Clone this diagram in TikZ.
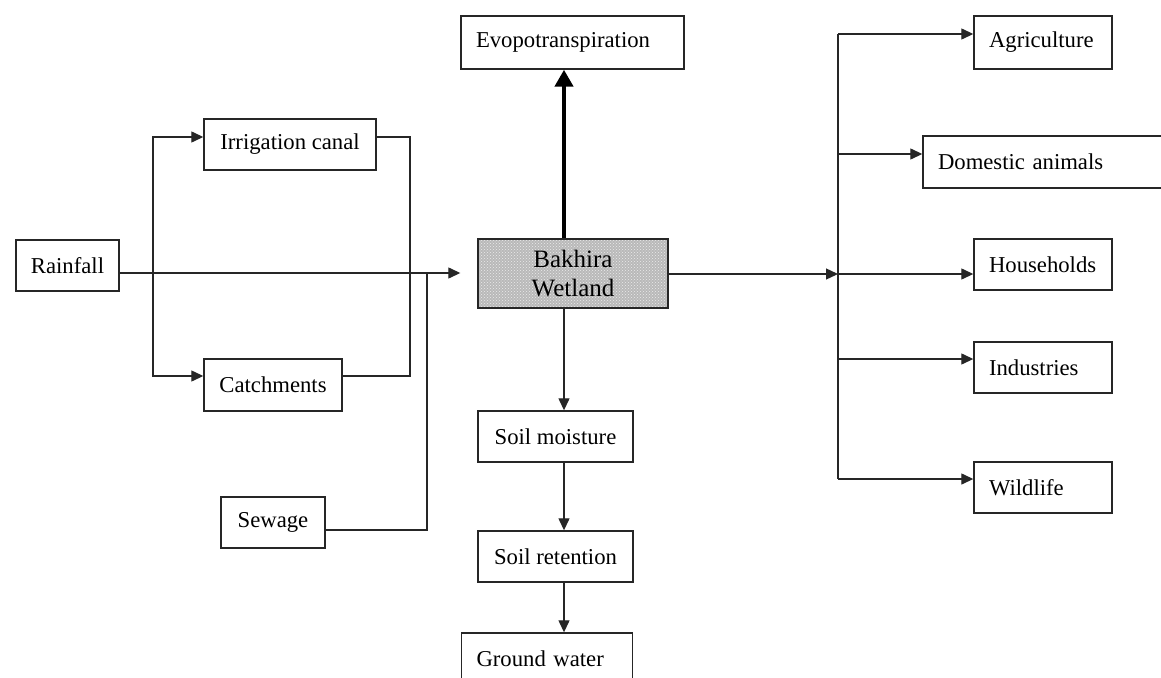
\documentclass[tikz,border=0pt]{standalone}
\usepackage{fontspec}
\setmainfont{Liberation Serif}
\usetikzlibrary{arrows.meta,patterns,calc}
\begin{document}
\begin{tikzpicture}[x=1pt,y=-1pt,
  box/.style={draw=black!85,line width=1.4pt,rectangle,inner sep=0pt,
    font=\fontsize{22.7}{29}\selectfont,align=center},
  lbox/.style={box,align=left,inner xsep=15pt},
  conn/.style={draw=black!85,line width=1.3pt},
  arr/.style={conn,-{Triangle[width=11pt,length=12pt]}},
  thickarr/.style={draw=black,line width=4.5pt,-{Triangle[width=18pt,length=17pt]}}]
\useasboundingbox (0,0) rectangle (1161,677);
\clip (0,0) rectangle (1161,677);
% nodes
\node[box,minimum width=103pt,minimum height=51pt] (rain) at (67.5,265.5) {Rainfall};
\node[box,minimum width=172pt,minimum height=51pt] (irr) at (290,144.5) {Irrigation canal};
\node[box,minimum width=138pt,minimum height=52pt] (catch) at (273,385) {Catchments};
\node[box,minimum width=104pt,minimum height=51pt] (sew) at (273,522.5) {Sewage};
\node[lbox,text width=193pt,minimum height=53pt] (evo) at (572.5,42.5) {Evopotranspiration};
\node[box,minimum width=190pt,minimum height=69pt,font=\fontsize{25}{29}\selectfont,
  preaction={fill=gray!55},pattern=crosshatch dots,pattern color=white!85!gray] (wet) at (573,273.5) {Bakhira\\Wetland};
\node[box,minimum width=155pt,minimum height=51pt] (moist) at (555.5,436.5) {Soil moisture};
\node[box,minimum width=155pt,minimum height=51pt] (ret) at (555.5,556.5) {Soil retention};
\node[lbox,text width=141pt,minimum height=51pt] (gw) at (547,658.5) {Ground water};
\node[lbox,text width=108pt,minimum height=53pt] (agr) at (1043,42.5) {Agriculture};
\node[lbox,text width=220pt,minimum height=52pt] (dom) at (1048,162) {Domestic animals};
\node[lbox,text width=108pt,minimum height=51pt] (hh) at (1043,264.5) {Households};
\node[lbox,text width=108pt,minimum height=51pt] (ind) at (1043,367.5) {Industries};
\node[lbox,text width=108pt,minimum height=51pt] (wild) at (1043,487.5) {Wildlife};
% helper coordinates
\coordinate (vx) at (564,0);
\coordinate (split) at (153,273);
\coordinate (sj) at (427,273);
\coordinate (cr) at (410,376);
\coordinate (hub) at (838,274);
\coordinate (rainOut) at ($(rain.east)+(0,7.5)$);
\coordinate (irrIn) at ($(irr.west)+(0,-7.5)$);
\coordinate (irrOut) at ($(irr.east)+(0,-7.5)$);
\coordinate (catchIn) at ($(catch.west)+(0,-9)$);
\coordinate (catchOut) at ($(catch.east)+(0,-9)$);
\coordinate (sewOut) at ($(sew.east)+(0,7.5)$);
\coordinate (agrIn) at ($(agr.west)+(0,-8.5)$);
\coordinate (domIn) at ($(dom.west)+(0,-8)$);
\coordinate (hhIn) at ($(hh.west)+(0,9.5)$);
\coordinate (indIn) at ($(ind.west)+(0,-8.5)$);
\coordinate (wildIn) at ($(wild.west)+(0,-8.5)$);
% left inflows
\draw[arr,shorten >=17pt] (rainOut) -- (rainOut -| wet.west);
\draw[arr] (split) |- (irrIn);
\draw[arr] (split) |- (catchIn);
\path[conn] (irrOut) -| (cr) -- (catchOut);
\path[conn] (sewOut) -| (sj);
% evapotranspiration
\draw[thickarr] (wet.north -| vx) -- (evo.south -| vx);
% downward chain
\draw[arr] (wet.south -| vx) -- (moist.north -| vx);
\draw[arr] (moist.south -| vx) -- (ret.north -| vx);
\draw[arr] (ret.south -| vx) -- (gw.north -| vx);
% outflows
\draw[arr] (wet.east |- hub) -- (hub);
\path[conn] (agrIn -| hub) -- (wildIn -| hub);
\draw[arr] (agrIn -| hub) -- (agrIn);
\draw[arr] (domIn -| hub) -- (domIn);
\draw[arr] (hub) -- (hhIn);
\draw[arr] (indIn -| hub) -- (indIn);
\draw[arr] (wildIn -| hub) -- (wildIn);
\end{tikzpicture}
\end{document}
